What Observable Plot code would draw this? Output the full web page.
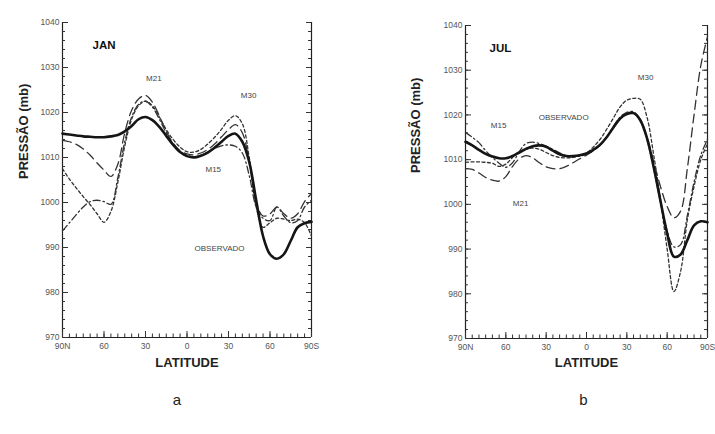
<!DOCTYPE html>
<html><head><meta charset="utf-8">
<script src="https://cdn.jsdelivr.net/npm/d3@7"></script>
<script src="https://cdn.jsdelivr.net/npm/@observablehq/plot@0.6"></script>
<style>
body{margin:0;background:#fff;}
#wrap{position:relative;width:715px;height:434px;overflow:hidden;background:#fff;}
#wrap svg{position:absolute;top:0;}
</style></head><body><div id="wrap"></div>
<script>
// ---------- data ----------
const latitudes = [90,85,80,75,70,65,60,55,50,45,40,35,30,25,20,15,10,5,0,-5,-10,-15,-20,-25,-30,-35,-40,-45,-50,-55,-60,-65,-70,-75,-80,-85,-90];

// JAN (a)
const janObservado = [1015.3,1015.1,1014.9,1014.7,1014.6,1014.5,1014.5,1014.7,1015.0,1015.8,1017.0,1018.5,1019.0,1018.3,1016.8,1014.8,1012.8,1011.2,1010.3,1010.0,1010.4,1011.1,1012.2,1013.5,1014.8,1015.3,1013.5,1009.0,1000.5,992.5,988.5,987.5,988.5,991.5,994.5,995.4,995.7];
const janM15 = [993.7,995.5,997.3,999.0,1000.2,1000.5,1000.2,999.6,1005.5,1013.5,1019.0,1021.8,1022.5,1021.2,1018.5,1015.5,1013.0,1011.3,1010.5,1010.2,1010.5,1011.2,1012.0,1012.6,1012.8,1012.5,1011.0,1006.0,999.0,996.5,996.0,999.0,997.0,995.5,996.0,999.0,1000.5];
const janM21 = [1013.8,1013.5,1012.9,1011.9,1010.5,1008.8,1007.2,1005.8,1008.5,1015.5,1020.5,1023.0,1023.8,1022.3,1019.2,1015.8,1013.2,1011.5,1010.8,1010.6,1011.0,1011.8,1013.0,1014.6,1016.2,1017.3,1015.5,1009.0,1000.0,997.0,997.5,999.0,997.5,996.5,997.5,1000.2,1002.0];
const janM30 = [1007.5,1005.2,1003.2,1001.3,999.5,997.5,995.6,998.0,1004.5,1012.5,1018.5,1021.5,1022.5,1021.5,1019.0,1016.2,1014.0,1012.3,1011.3,1011.2,1011.8,1013.0,1014.5,1016.3,1018.3,1019.3,1017.5,1010.0,999.0,994.5,995.5,996.5,996.3,996.0,996.3,995.5,992.5];

// JUL (b)
const julObservado = [1014.0,1013.2,1012.2,1011.3,1010.7,1010.3,1010.3,1010.8,1011.6,1012.4,1013.0,1013.2,1012.9,1012.0,1011.2,1010.8,1010.8,1011.0,1011.4,1012.2,1013.3,1015.0,1017.2,1019.2,1020.2,1020.4,1018.8,1014.8,1008.3,1000.8,993.5,988.3,988.8,992.0,995.3,996.2,996.0];
const julM15 = [1016.1,1015.0,1013.8,1012.0,1010.5,1009.2,1008.3,1009.3,1011.8,1013.6,1013.9,1013.6,1013.0,1012.3,1011.5,1010.8,1010.6,1010.8,1011.2,1012.0,1013.2,1015.0,1017.4,1019.5,1020.6,1020.7,1019.0,1014.5,1008.0,1000.5,994.0,990.5,991.0,997.5,1005.0,1011.0,1014.5];
const julM21 = [1008.0,1007.8,1007.0,1006.0,1005.4,1005.2,1006.2,1008.5,1010.2,1010.9,1010.4,1009.3,1008.4,1008.0,1008.0,1008.5,1009.3,1010.2,1011.0,1012.0,1013.2,1015.0,1017.0,1019.0,1020.2,1020.5,1019.0,1015.0,1009.5,1004.0,999.5,997.0,998.5,1008.0,1020.0,1031.0,1037.5];
const julM30 = [1009.4,1009.5,1009.5,1009.4,1009.2,1008.5,1009.0,1010.5,1011.8,1012.4,1012.6,1012.3,1011.6,1010.9,1010.5,1010.4,1010.5,1010.9,1011.5,1012.8,1014.5,1016.8,1019.3,1021.8,1023.3,1023.7,1023.5,1019.5,1011.0,1001.0,990.0,980.5,985.0,996.5,1004.0,1010.0,1013.5];

// tick labels
const yLabelTicks = [970,980,990,1000,1010,1020,1030,1040];
const xTickValues = [90,60,30,0,-30,-60,-90];
const xTickLabels = ["90N","60","30","0","30","60","90S"];

// in-plot annotations
const janLabels = [{lat:24, p:1027.6, text:"M21"},{lat:-44.5, p:1023.8, text:"M30"},{lat:-19, p:1007.3, text:"M15"},{lat:-23.5, p:989.8, text:"OBSERVADO"}];
const julLabels = [{lat:65.4, p:1017.6, text:"M15"},{lat:17, p:1019.4, text:"OBSERVADO"},{lat:49, p:1000.2, text:"M21"},{lat:-44, p:1028.4, text:"M30"}];
const janTitle = {lat:60, p:1035, text:"JAN"};
const julTitle = {lat:64, p:1035, text:"JUL"};

// ---------- drawing ----------
const styles = {
  OBSERVADO: {stroke:"#151515", strokeWidth:2.6},
  M15: {stroke:"#333", strokeWidth:1.3, strokeDasharray:"7,3,1.5,3"},
  M21: {stroke:"#333", strokeWidth:1.3, strokeDasharray:"9,5"},
  M30: {stroke:"#333", strokeWidth:1.3, strokeDasharray:"3,2.5"}
};
const yMinor = d3.range(970, 1041, 2);
const xMinor = d3.range(-90, 91, 5);
const font = "'Liberation Sans', Arial, Helvetica, sans-serif";

function toRows(values){ return latitudes.map((lat,i)=>({lat, p:values[i]})); }

function panel(o){
  const m = o.m, W = o.width, H = 434;
  const fw = W - m.left - m.right, fh = H - m.top - m.bottom;
  const lines = Object.entries(o.series).map(([name, vals]) =>
    Plot.line(toRows(vals), {x:"lat", y:"p", curve:"catmull-rom", ...styles[name]}));
  return Plot.plot({
    width: W, height: H,
    marginTop: m.top, marginBottom: m.bottom, marginLeft: m.left, marginRight: m.right,
    x: {domain:[90,-90]}, y: {domain:[970,1040]},
    style: {fontFamily: font, background:"transparent", color:"#222"},
    marks: [
      Plot.ruleX([90,-90], {stroke:"#222", strokeWidth:1.2}),
      Plot.ruleY([970], {stroke:"#222", strokeWidth:1.2}),
      Plot.tickY(yMinor, {y:d=>d, insetRight: fw-3, stroke:"#333"}),
      Plot.tickY(yLabelTicks, {y:d=>d, insetRight: fw-6, stroke:"#333"}),
      Plot.tickY(yMinor, {y:d=>d, insetLeft: fw-3, stroke:"#333"}),
      Plot.tickY(yLabelTicks, {y:d=>d, insetLeft: fw-5, stroke:"#333"}),
      Plot.tickX(xMinor, {x:d=>d, insetTop: fh-3.5, stroke:"#333"}),
      Plot.tickX(xTickValues, {x:d=>d, insetTop: fh-6, stroke:"#333"}),
      Plot.axisY({ticks: yLabelTicks, tickSize:0, tickPadding:3, fontSize:8.5, label:null, fill:"#555",
        tickFormat: d => String(d)}),
      Plot.axisX({ticks: xTickValues, tickSize:0, tickPadding:5, fontSize:8.5, label:null, fill:"#555",
        tickFormat: d => xTickLabels[xTickValues.indexOf(d)]}),
      ...lines,
      Plot.text(o.labels, {x:"lat", y:"p", text:"text", fontSize:8, fill:"#444"}),
      Plot.text([o.title], {x:"lat", y:"p", text:"text", fontSize:11.5, fontWeight:"bold", fill:"#111"}),
      Plot.text(["PRESSÃO (mb)"], {frameAnchor:"left", rotate:-90, dx:o.ylabDx, dy:o.ylabDy, fontSize:13, fontWeight:"bold", fill:"#222"}),
      Plot.text(["LATITUDE"], {frameAnchor:"bottom", dy:o.xlabDy, fontSize:13, fontWeight:"bold", fill:"#222"}),
      Plot.text([o.letter], {frameAnchor:"bottom", dx:o.letterDx, dy:o.letterDy, fontSize:15, fill:"#222"})
    ]
  });
}

const wrap = document.getElementById("wrap");
const a = panel({
  width:357, m:{top:22, bottom:97, left:62, right:46},
  series:{M30:janM30, M21:janM21, M15:janM15, OBSERVADO:janObservado},
  labels:janLabels, title:janTitle, letter:"a",
  ylabDx:-39, ylabDy:-1, xlabDy:29, letterDx:-10, letterDy:67
});
a.style.left = "0px";
const b = panel({
  width:358, m:{top:25, bottom:96, left:108, right:8},
  series:{M30:julM30, M21:julM21, M15:julM15, OBSERVADO:julObservado},
  labels:julLabels, title:julTitle, letter:"b",
  ylabDx:-50, ylabDy:-9, xlabDy:28, letterDx:-3, letterDy:66
});
b.style.left = "357px";
wrap.appendChild(a);
wrap.appendChild(b);
</script></body></html>
